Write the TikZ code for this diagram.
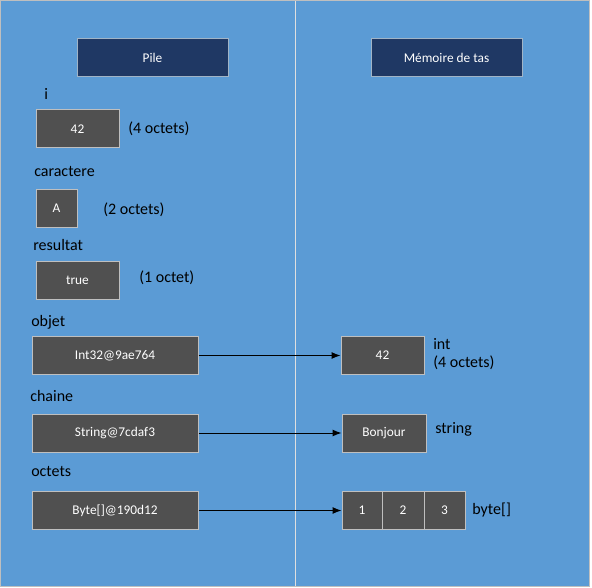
\documentclass[tikz,border=0pt]{standalone}
\usepackage{fontspec}
\setmainfont{Carlito}
\usetikzlibrary{arrows.meta}
\definecolor{fond}{HTML}{5B9BD5}
\definecolor{entete}{HTML}{1F3864}
\definecolor{boxgray}{HTML}{505050}
\definecolor{bord}{HTML}{BFBFBF}

\begin{document}
\begin{tikzpicture}[x=0.75pt,y=-0.75pt,
    cell/.style={draw=bord,line width=0.75pt,fill=boxgray,text=white,font=\fontsize{10}{12}\selectfont,minimum height=28.5pt,inner sep=0pt},
    header/.style={cell,fill=entete,draw=bord!70!fond,minimum width=113.25pt},
    lbl/.style={anchor=base west,inner sep=0pt,font=\fontsize{12}{14}\selectfont},
    ptr/.style={line width=0.75pt,-{Latex[length=6.75pt,width=5.25pt]}}]
\useasboundingbox (0,0) rectangle (592,588);
\fill[white] (0,0) rectangle (592,588);
\draw[fill=fond,draw=bord,line width=0.75pt] (0.5,0.5) rectangle (589.5,586.5);
\draw[bord!50!white,line width=0.75pt] (295.5,1) -- (295.5,586);
\node[header] (pile) at (152.5,58) {Pile};
\node[header] (tas) at (446.5,58) {Mémoire de tas};
\node[lbl] (li) at (44,100) {i};
\node[cell,minimum width=62.25pt] (i) at (77.5,129) {42};
\node[lbl] (ti) at (128,133.5) {(4 octets)};
\node[lbl] (lcar) at (34,176) {caractere};
\node[cell,minimum width=30.75pt] (car) at (56.5,208.5) {A};
\node[lbl] (tcar) at (103,214) {(2 octets)};
\node[lbl] (lres) at (33,250.5) {resultat};
\node[cell,minimum width=62.25pt] (res) at (77.5,280) {true};
\node[lbl] (tres) at (139,282.5) {(1 octet)};
\node[lbl] (lobj) at (31,326) {objet};
\node[cell,minimum width=124.5pt] (obj) at (115,355.5) {Int32@9ae764};
\node[lbl] (lch) at (30,401.5) {chaine};
\node[cell,minimum width=124.5pt] (ch) at (115,433) {String@7cdaf3};
\node[lbl] (loct) at (31,476.5) {octets};
\node[cell,minimum width=124.5pt] (oct) at (115,510.5) {Byte[]@190d12};
\node[cell,minimum width=62.25pt] (int) at (382.5,355.5) {42};
\node[lbl] (tint) at (433,349) {int};
\node[lbl] (tint2) at (433,367.5) {(4 octets)};
\node[cell,minimum width=63pt] (str) at (384,433) {Bonjour};
\node[lbl] (tstr) at (435,433) {string};
\node[cell,minimum width=30pt] (b1) at (362,510.5) {1};
\node[cell,minimum width=31.5pt] (b2) at (403,510.5) {2};
\node[cell,minimum width=30.75pt] (b3) at (444.5,510.5) {3};
\node[lbl] (tb) at (472,514.5) {byte[]};
\draw[ptr] (obj) -- (int);
\draw[ptr] (ch) -- (str);
\draw[ptr] (oct) -- (b1);
\end{tikzpicture}
\end{document}
